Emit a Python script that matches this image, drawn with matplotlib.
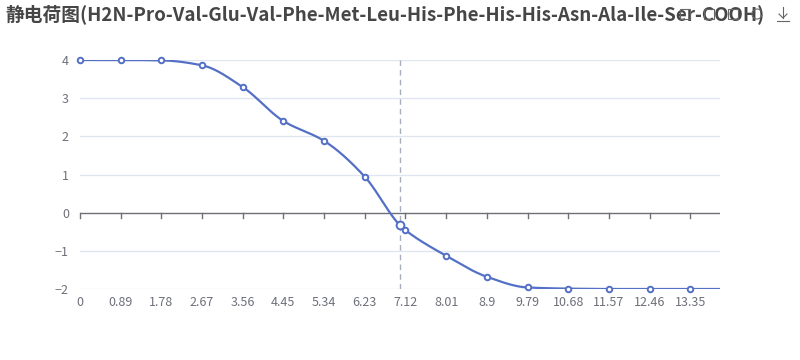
import numpy as np
import matplotlib
matplotlib.use("Agg")
import matplotlib.pyplot as plt
from matplotlib.lines import Line2D
from matplotlib.patches import Rectangle

plt.rcParams['font.family'] = ['Noto Sans CJK SC', 'DejaVu Sans']

title = "静电荷图(H2N-Pro-Val-Glu-Val-Phe-Met-Leu-His-Phe-His-His-Asn-Ala-Ile-Ser-COOH)"
ph = [0, 0.89, 1.78, 2.67, 3.56, 4.45, 5.34, 6.23, 6.99, 7.12, 8.01, 8.9, 9.79, 10.68, 11.57, 12.46, 13.35, 14.0]
charge = [4.0, 4.0, 3.99, 3.86, 3.29, 2.40, 1.88, 0.94, -0.32, -0.46, -1.13, -1.68, -1.96, -1.99, -2.0, -2.0, -2.0, -2.0]
show_symbol = [True] * 17 + [False]
pi_value = 6.99
pi_charge = -0.32
xticks = [0, 0.89, 1.78, 2.67, 3.56, 4.45, 5.34, 6.23, 7.12, 8.01, 8.9, 9.79, 10.68, 11.57, 12.46, 13.35]
xtick_labels = ["0", "0.89", "1.78", "2.67", "3.56", "4.45", "5.34", "6.23", "7.12", "8.01", "8.9", "9.79", "10.68", "11.57", "12.46", "13.35"]
yticks = [-2, -1, 0, 1, 2, 3, 4]


def pchip(x, y, xs):
    x = np.asarray(x, float); y = np.asarray(y, float)
    h = np.diff(x); d = np.diff(y) / h
    n = len(x); m = np.zeros(n)
    for k in range(1, n - 1):
        if d[k - 1] * d[k] <= 0:
            m[k] = 0
        else:
            w1 = 2 * h[k] + h[k - 1]; w2 = h[k] + 2 * h[k - 1]
            m[k] = (w1 + w2) / (w1 / d[k - 1] + w2 / d[k])
    m[0] = d[0]; m[-1] = d[-1]
    idx = np.clip(np.searchsorted(x, xs) - 1, 0, n - 2)
    t = (xs - x[idx]) / h[idx]
    h00 = 2 * t**3 - 3 * t**2 + 1; h10 = t**3 - 2 * t**2 + t
    h01 = -2 * t**3 + 3 * t**2; h11 = t**3 - t**2
    return h00 * y[idx] + h10 * h[idx] * m[idx] + h01 * y[idx + 1] + h11 * h[idx] * m[idx + 1]


fig = plt.figure(figsize=(8, 3.6), dpi=100)
ax = fig.add_axes([0.1, 1 - 289 / 360, 0.8, (289 - 60) / 360])
ax.set_xlim(0, 14)
ax.set_ylim(-2, 4)

line_color = '#5470C6'
axis_color = '#6E7079'
grid_color = '#E0E6F1'

for yv in yticks:
    if yv != 0:
        ax.axhline(yv, color=grid_color, lw=1, zorder=0)

# axis line at zero with ticks
ax.axhline(0, color=axis_color, lw=1, zorder=1)
for xv in xticks:
    ax.plot([xv, xv], [0, -0.13], color=axis_color, lw=1, zorder=1, clip_on=False)

ax.axvline(pi_value, color='#A7AEBC', lw=1, ls=(0, (4, 3)), zorder=1)

xs = np.linspace(0, 14, 1400)
ax.plot(xs, pchip(ph, charge, xs), color=line_color, lw=1.6, zorder=3, solid_capstyle='round')
sx = [p for p, s in zip(ph, show_symbol) if s and p != pi_value]
sy = [c for p, c, s in zip(ph, charge, show_symbol) if s and p != pi_value]
ax.plot(sx, sy, 'o', ms=4.0, mfc='white', mec=line_color, mew=1.4, zorder=4, clip_on=False)
ax.plot([pi_value], [pi_charge], 'o', ms=5.6, mfc='white', mec=line_color, mew=1.4, zorder=5)

for s in ax.spines.values():
    s.set_visible(False)
ax.set_xticks(xticks)
ax.set_xticklabels(xtick_labels)
ax.set_yticks(yticks)
ax.tick_params(axis='both', length=0, colors=axis_color, labelsize=9)
ax.tick_params(axis='x', pad=5)
ax.tick_params(axis='y', pad=8)

fig.text(5 / 800, 1 - 14 / 360, title, fontsize=13.5, fontweight='bold', color='#464646',
         va='center', ha='left', zorder=2)

# toolbox icons (drawn over the title)
ic = '#666666'
def fx(px): return px / 800
def fy(py): return 1 - py / 360
for cx in [685, 709, 733]:
    fig.add_artist(Rectangle((fx(cx - 5), fy(19)), 10 / 800, 10 / 360, fill=False, ec=ic, lw=0.8,
                             transform=fig.transFigure, zorder=10))
th = np.linspace(0.3, 2 * np.pi - 0.6, 40)
fig.add_artist(Line2D(fx(757 + 5 * np.cos(th)), fy(14 + 5 * np.sin(th)), color=ic, lw=0.8,
                      transform=fig.transFigure, zorder=10))
fig.add_artist(Line2D([fx(783), fx(783)], [fy(7), fy(18)], color=ic, lw=0.8, transform=fig.transFigure, zorder=10))
fig.add_artist(Line2D([fx(779), fx(783), fx(787)], [fy(14), fy(18), fy(14)], color=ic, lw=0.8,
                      transform=fig.transFigure, zorder=10))
fig.add_artist(Line2D([fx(777), fx(789)], [fy(21), fy(21)], color=ic, lw=0.8, transform=fig.transFigure, zorder=10))

fig.savefig('out.png', dpi=100, facecolor='white')
